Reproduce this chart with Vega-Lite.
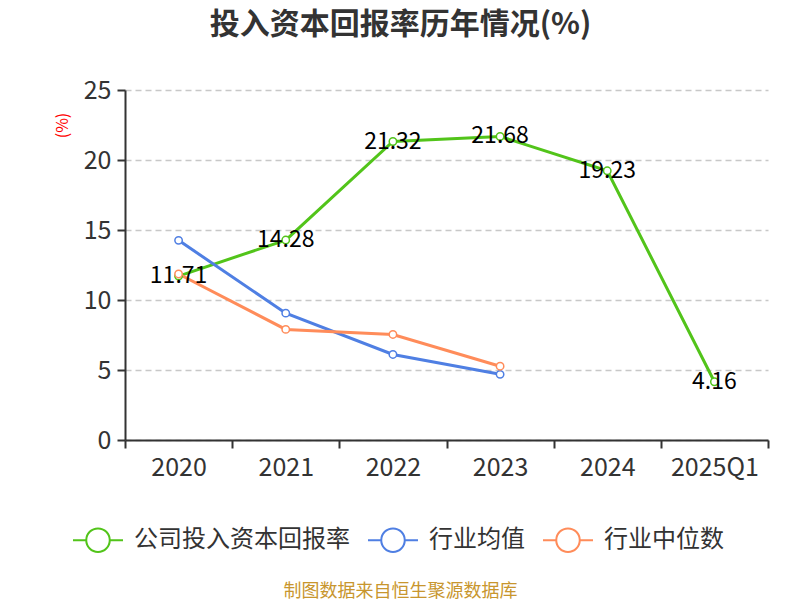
{
  "$schema": "https://vega.github.io/schema/vega-lite/v6.json",
  "autosize": {"type": "none"},
  "width": 643,
  "height": 350,
  "padding": {"left": 125, "top": 90, "right": 32, "bottom": 160},
  "background": "white",
  "config": {
    "font": "Noto Sans CJK SC",
    "view": {"stroke": null}
  },
  "title": {
    "text": "投入资本回报率历年情况(%)",
    "frame": "group",
    "anchor": "middle",
    "offset": 38,
    "dx": -46,
    "fontSize": 30,
    "fontWeight": "bold",
    "color": "#333333"
  },
  "data": {
    "values": [
      {"year": "2020", "series": "公司投入资本回报率", "value": 11.71},
      {"year": "2021", "series": "公司投入资本回报率", "value": 14.28},
      {"year": "2022", "series": "公司投入资本回报率", "value": 21.32},
      {"year": "2023", "series": "公司投入资本回报率", "value": 21.68},
      {"year": "2024", "series": "公司投入资本回报率", "value": 19.23},
      {"year": "2025Q1", "series": "公司投入资本回报率", "value": 4.16},
      {"year": "2020", "series": "行业均值", "value": 14.26},
      {"year": "2021", "series": "行业均值", "value": 9.06},
      {"year": "2022", "series": "行业均值", "value": 6.11},
      {"year": "2023", "series": "行业均值", "value": 4.69},
      {"year": "2020", "series": "行业中位数", "value": 11.86},
      {"year": "2021", "series": "行业中位数", "value": 7.9},
      {"year": "2022", "series": "行业中位数", "value": 7.54},
      {"year": "2023", "series": "行业中位数", "value": 5.27}
    ]
  },
  "encoding": {
    "x": {
      "field": "year",
      "type": "nominal",
      "sort": ["2020", "2021", "2022", "2023", "2024", "2025Q1"],
      "scale": {"type": "band", "paddingInner": 0, "paddingOuter": 0},
      "axis": {
        "title": "制图数据来自恒生聚源数据库",
        "titleColor": "#c8962e",
        "titleFontSize": 18,
        "titleFontWeight": "normal",
        "titleX": 275,
        "titleY": 151,
        "titleAlign": "center",
        "titleBaseline": "middle",
        "labelAngle": 0,
        "labelFontSize": 25,
        "labelColor": "#333333",
        "labelPadding": 7,
        "domainColor": "#333333",
        "domainWidth": 2,
        "tickColor": "#333333",
        "tickWidth": 2,
        "tickSize": 8,
        "tickBand": "extent",
        "grid": false
      }
    },
    "y": {
      "field": "value",
      "type": "quantitative",
      "scale": {"domain": [0, 25]},
      "axis": {
        "title": "(%)",
        "titleColor": "red",
        "titleFontSize": 16,
        "titleFontWeight": "normal",
        "titleX": -63,
        "titleY": 35,
        "titleAlign": "center",
        "titleBaseline": "middle",
        "values": [0, 5, 10, 15, 20, 25],
        "labelFontSize": 25,
        "labelColor": "#333333",
        "labelPadding": 6,
        "domainColor": "#333333",
        "domainWidth": 2,
        "tickColor": "#333333",
        "tickWidth": 2,
        "tickSize": 8,
        "grid": true,
        "gridColor": "#c8c8c8",
        "gridDash": [6, 4],
        "gridWidth": 1.5
      }
    },
    "color": {
      "field": "series",
      "type": "nominal",
      "sort": ["公司投入资本回报率", "行业均值", "行业中位数"],
      "scale": {
        "domain": ["公司投入资本回报率", "行业均值", "行业中位数"],
        "range": ["#52c41a", "#4f7fe3", "#ff8c5a"]
      },
      "legend": {
        "title": null,
        "orient": "none",
        "direction": "horizontal",
        "legendX": -53,
        "legendY": 424,
        "symbolType": "M-1,0L-0.47,0M0.47,0L1,0M0.47,0A0.47,0.47,0,1,1,-0.47,0A0.47,0.47,0,1,1,0.47,0Z",
        "symbolSize": 2500,
        "symbolStrokeWidth": 2,
        "symbolFillColor": "white",
        "labelFontSize": 24,
        "labelLimit": 400,
        "labelColor": "#333333",
        "labelOffset": 10,
        "columnPadding": 14
      }
    }
  },
  "layer": [
    {
      "mark": {"type": "line", "strokeWidth": 3}
    },
    {
      "mark": {"type": "point", "filled": false, "fill": "white", "size": 55, "strokeWidth": 1.5, "opacity": 1}
    },
    {
      "transform": [{"filter": "datum.series === '公司投入资本回报率'"}],
      "mark": {"type": "text", "fontSize": 23, "align": "center", "baseline": "middle"},
      "encoding": {
        "text": {"field": "value", "type": "quantitative", "format": ".2f"},
        "color": {"value": "black"}
      }
    }
  ]
}
